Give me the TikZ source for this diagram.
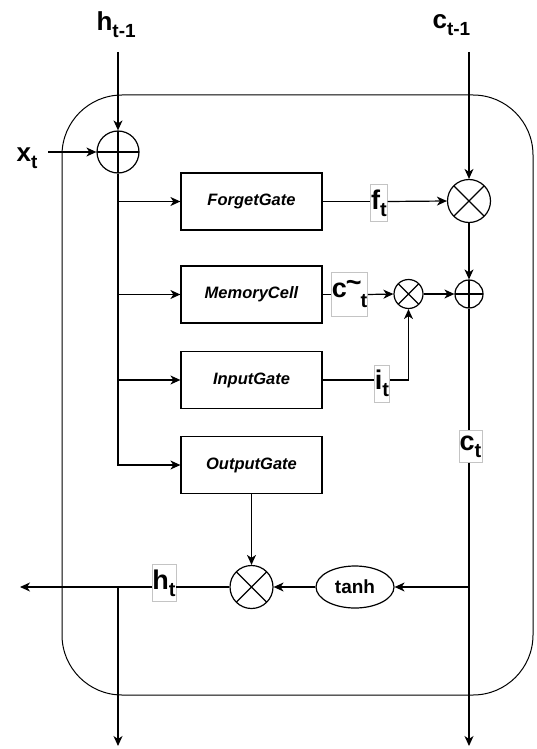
\documentclass[tikz,border=0pt]{standalone}
\usepackage{fontspec}
\setmainfont{Liberation Sans}
\usetikzlibrary{shapes.geometric,arrows.meta}
\newcommand{\toplbl}[2]{{\fontsize{26}{26}\selectfont\bfseries #1\raisebox{-7pt}{\fontsize{19}{19}\selectfont #2}}}
\newcommand{\inlbl}[2]{{\fontsize{27}{27}\selectfont\bfseries #1\raisebox{-7pt}{\fontsize{20}{20}\selectfont #2}}}
\definecolor{lblgray}{HTML}{C4C4C4}
\begin{document}
\begin{tikzpicture}[x=1pt,y=-1pt,line width=1.2pt,
  >={Stealth[length=10pt,width=9pt,inset=3pt]},
  gate/.style={draw,minimum width=141pt,minimum height=57pt,inner sep=0pt,
    font=\fontsize{16.5}{16.5}\selectfont\bfseries\itshape},
  opplus/.style={circle,draw,minimum size=#1,inner sep=0pt,
    path picture={\draw (path picture bounding box.north) -- (path picture bounding box.south)
      (path picture bounding box.west) -- (path picture bounding box.east);}},
  optimes/.style={circle,draw,minimum size=#1,inner sep=0pt,
    path picture={\draw (path picture bounding box.north west) -- (path picture bounding box.south east)
      (path picture bounding box.south west) -- (path picture bounding box.north east);}},
  lblbox/.style={draw=lblgray,line width=0.6pt,fill=white,inner xsep=0.6pt,inner ysep=5pt},
  toptext/.style={anchor=base west,inner sep=0pt}
]
\useasboundingbox (0,0) rectangle (536,749);
% container
\draw[line width=1pt,rounded corners=60pt] (62,95) rectangle (533,695);

% inputs
\node[toptext] (hprev) at (96,31) {\toplbl{h}{t-1}};
\node[toptext] (xt) at (16,161) {\toplbl{x}{t}};
\node[toptext] (cprev) at (432,29) {\toplbl{c}{t-1}};
\coordinate (hin) at (118,52);
\coordinate (xin) at (48,152);
\coordinate (cin) at (469,52);

% operators
\node[opplus=42pt] (add1) at (118,152) {};
\node[optimes=43pt] (mul1) at (469,201) {};
\node[opplus=28pt] (add2) at (469,294) {};
\node[optimes=29pt] (mul2) at (408.5,294) {};
\node[optimes=43pt] (mul3) at (251.5,587) {};
\node[ellipse,draw,minimum width=78pt,minimum height=42pt,inner sep=0pt,
  font=\fontsize{19}{19}\selectfont\bfseries] (tanh) at (355,587) {tanh};

% gates
\node[gate] (fg) at (251.5,201.5) {ForgetGate};
\node[gate] (mc) at (251.5,294.5) {MemoryCell};
\node[gate] (ig) at (251.5,380) {InputGate};
\node[gate] (og) at (251.5,465) {OutputGate};

% labels on lines
\node[lblbox] (ft) at (379,203) {\inlbl{f}{t}};
\node[lblbox,minimum height=44pt,inner xsep=0.3pt] (ct2) at (349.5,294) {{\fontsize{27}{27}\selectfont\bfseries c\kern-1pt\raisebox{6pt}{\textasciitilde}\kern-1pt\raisebox{-10pt}{\fontsize{20}{20}\selectfont t}}};
\node[lblbox] (it) at (382,383.5) {\inlbl{i}{t}};
\node[lblbox] (ct) at (470.5,446.5) {\inlbl{c}{t}};
\node[lblbox] (ht) at (164,583) {\inlbl{h}{t}};

% outputs
\coordinate (hout) at (20,587);
\coordinate (hb) at (118,587);
\coordinate (hdown) at (118,746);
\coordinate (cb) at (469,587);
\coordinate (cout) at (469,746);

% connectors
\draw[->] (hin) -- (add1);
\draw[->] (xin) -- (add1);
\draw[->] (add1.south) |- (og.west);
\draw[->] (add1.south |- fg.west) -- (fg.west);
\draw[->] (add1.south |- mc.west) -- (mc.west);
\draw[->] (add1.south |- ig.west) -- (ig.west);

\draw[->] (cin) -- (mul1);
\draw (fg.east) -- (fg.east -| ft.west);
\draw[->] (fg.east -| ft.east) -- (mul1.west);
\draw[->] (mul1.south) -- (add2.north);

\draw (mc.east) -- (mc.east -| ct2.west);
\draw[->] (mc.east -| ct2.east) -- (mul2.west);
\draw[->] (mul2.east) -- (add2.west);

\draw (ig.east) -- (ig.east -| it.west);
\draw[->] (ig.east -| it.east) -| (mul2.south);

\draw (add2.south) -- (add2.south |- ct.north);
\draw[->] (add2.south |- ct.south) -- (cout);
\draw[->] (cb) -- (tanh.east);
\draw[->] (tanh.west) -- (mul3.east);
\draw[->] (og.south) -- (mul3.north);

\draw (mul3.west) -- (mul3.west -| ht.east);
\draw[->] (mul3.west -| ht.west) -- (hout);
\draw[->] (hb) -- (hdown);
\end{tikzpicture}
\end{document}
